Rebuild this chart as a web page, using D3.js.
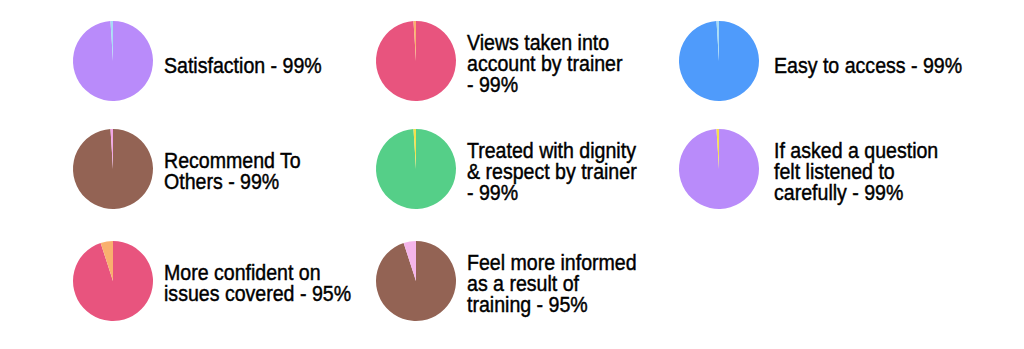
<!DOCTYPE html>
<html>
<head>
<meta charset="utf-8">
<script src="https://cdn.jsdelivr.net/npm/d3@7"></script>
<style>
html,body{margin:0;padding:0;background:#fff;}
svg{display:block;}
text{font-family:"Liberation Sans","DejaVu Sans",sans-serif;fill:#000;stroke:#000;stroke-width:0.45px;}
</style>
</head>
<body>
<svg id="chart" width="1024" height="349"></svg>
<script>
// Data
const labels = [
  ["Satisfaction - 99%"],
  ["Views taken into", "account by trainer", "- 99%"],
  ["Easy to access - 99%"],
  ["Recommend To", "Others - 99%"],
  ["Treated with dignity", "& respect by trainer", "- 99%"],
  ["If asked a question", "felt listened to", "carefully - 99%"],
  ["More confident on", "issues covered - 95%"],
  ["Feel more informed", "as a result of", "training - 95%"]
];
const positiveValues = [99, 99, 99, 99, 99, 99, 95, 95];
const otherValues    = [1, 1, 1, 1, 1, 1, 5, 5];
const mainColors  = ["#b98bfa", "#e8547e", "#4f9bfb", "#936354", "#55cf88", "#b98bfa", "#e8547e", "#936354"];
const otherColors = ["#a6dcf5", "#f9b06e", "#a6dcf5", "#f2a5e6", "#f5e04c", "#f5e04c", "#f9b06e", "#f4b5ea"];

const svg = d3.select("#chart");
const colX = d3.scaleOrdinal().domain([0,1,2]).range([113, 416, 719]);
const textX = d3.scaleOrdinal().domain([0,1,2]).range([164, 467, 774]);
const rowY = d3.scaleOrdinal().domain([0,1,2]).range([61, 169, 281]);
const radius = 40;
const pie = d3.pie().sort(null).value(d => d.v);
const arc = d3.arc().innerRadius(0).outerRadius(radius);
const lineH = 21;
const capH = 16;
const fontSize = 22.5;
const sx = 0.87;

positiveValues.forEach((pv, i) => {
  const col = i % 3, row = Math.floor(i / 3);
  const cy = rowY(row);
  const g = svg.append("g").attr("transform", `translate(${colX(col)},${cy})`);
  const data = [{v: pv, c: mainColors[i]}, {v: otherValues[i], c: otherColors[i]}];
  g.selectAll("path").data(pie(data)).enter().append("path")
    .attr("d", arc).attr("fill", d => d.data.c);
  const lines = labels[i];
  const n = lines.length;
  const mid = cy + (n === 1 ? 4 : 2);
  const capTop = mid - ((n - 1) * lineH + capH) / 2;
  const firstBaseline = capTop + capH;
  const tg = svg.append("g").attr("transform", `translate(${textX(col)},0) scale(${sx},1)`);
  const t = tg.append("text").attr("font-size", fontSize);
  lines.forEach((ln, k) => {
    t.append("tspan").attr("x", 0).attr("y", firstBaseline + k * lineH).text(ln);
  });
});
</script>
</body>
</html>
